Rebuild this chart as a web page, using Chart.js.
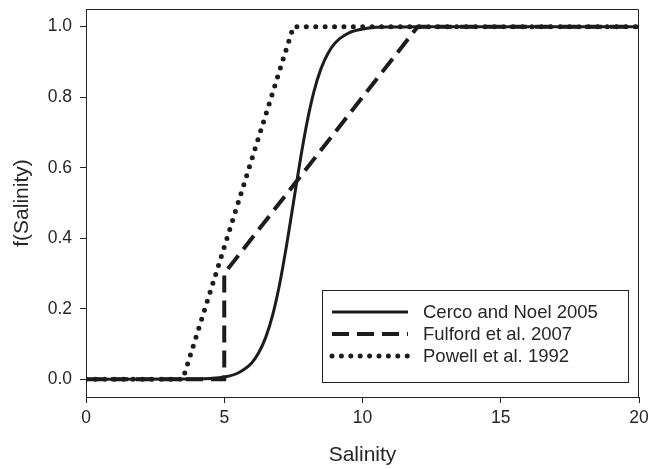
<!DOCTYPE html>
<html lang="en">
<head>
<meta charset="UTF-8">
<title>f(Salinity)</title>
<script src="https://cdn.jsdelivr.net/npm/chart.js"></script>
<style>
  html, body { margin: 0; padding: 0; background: #fff; }
  #wrap { width: 651px; height: 469px; position: relative; }
</style>
</head>
<body>
<div id="wrap"><canvas id="chart" width="651" height="469"></canvas></div>
<script>
  // values
  const seriesLabels = ['Cerco and Noel 2005', 'Fulford et al. 2007', 'Powell et al. 1992'];

  const cercoSal = [0, 4, 4.5, 5, 5.5, 6, 6.25, 6.5, 6.75, 7, 7.25, 7.5, 7.75, 8, 8.25, 8.5, 8.75, 9, 9.5, 10, 10.5, 11, 12, 20];
  const cercoF   = [0, 0.001, 0.0025, 0.0067, 0.018, 0.047, 0.076, 0.119, 0.182, 0.269, 0.378, 0.5, 0.622, 0.731, 0.818, 0.881, 0.924, 0.953, 0.982, 0.993, 0.998, 0.999, 1, 1];

  const fulfordSal = [0, 5, 5, 12, 20];
  const fulfordF   = [0, 0, 0.3, 1, 1];

  const powellSal = [0, 3.5, 7.5, 20];
  const powellF   = [0, 0, 1, 1];

  const xTicks = [0, 5, 10, 15, 20];
  const yTicks = [0, 0.2, 0.4, 0.6, 0.8, 1.0];

  const ink = '#1c1c1c';
  const textCol = '#262626';
  const font = 'Arial, "Liberation Sans", sans-serif';

  const pts = (xs, ys) => xs.map((x, i) => ({ x: x, y: ys[i] }));

  const datasets = [
    {
      label: seriesLabels[0],
      data: pts(cercoSal, cercoF),
      borderColor: ink, borderWidth: 3,
      cubicInterpolationMode: 'monotone',
      borderCapStyle: 'butt'
    },
    {
      label: seriesLabels[1],
      data: pts(fulfordSal, fulfordF),
      borderColor: ink, borderWidth: 4,
      borderDash: [17, 8],
      borderCapStyle: 'butt'
    },
    {
      label: seriesLabels[2],
      data: pts(powellSal, powellF),
      borderColor: ink, borderWidth: 5,
      borderDash: [0, 9.4],
      borderCapStyle: 'round',
      borderJoinStyle: 'round'
    }
  ];
  datasets.forEach(d => { d.showLine = true; d.pointRadius = 0; d.fill = false; d.tension = 0; });
  datasets[0].tension = 0.4;

  // top/right frame and the boxed legend
  const framePlugin = {
    id: 'frame',
    afterDraw(chart) {
      const { ctx, chartArea: a } = chart;
      ctx.save();
      ctx.strokeStyle = '#222';
      ctx.lineWidth = 1;
      ctx.beginPath();
      ctx.moveTo(a.left, a.top + 0.5);
      ctx.lineTo(a.right - 0.5, a.top + 0.5);
      ctx.lineTo(a.right - 0.5, a.bottom);
      ctx.stroke();

      // legend box
      const bx = a.left + 236, by = a.top + 281, bw = 306, bh = 92;
      ctx.strokeRect(bx + 0.5, by + 0.5, bw, bh);
      ctx.font = '18.5px ' + font;
      ctx.textBaseline = 'middle';
      chart.data.datasets.forEach((d, i) => {
        const y = by + 22 + i * 22;
        ctx.strokeStyle = ink;
        ctx.lineWidth = d.borderWidth;
        ctx.setLineDash(d.borderDash || []);
        ctx.lineCap = d.borderCapStyle || 'butt';
        ctx.beginPath();
        ctx.moveTo(bx + 10, y);
        ctx.lineTo(bx + 86, y);
        ctx.stroke();
        ctx.setLineDash([]);
        ctx.fillStyle = textCol;
        ctx.fillText(d.label, bx + 101, y + 1);
      });
      ctx.restore();
    }
  };

  new Chart(document.getElementById('chart'), {
    type: 'scatter',
    data: { datasets: datasets },
    plugins: [framePlugin],
    options: {
      responsive: false,
      animation: false,
      layout: { padding: { top: 9, right: 12, left: 0, bottom: 0 } },
      plugins: { legend: { display: false }, tooltip: { enabled: false } },
      scales: {
        x: {
          type: 'linear', min: 0, max: 20,
          afterBuildTicks: s => { s.ticks = xTicks.map(v => ({ value: v })); },
          afterFit: s => { s.height = 72; s.paddingLeft = 0; s.paddingRight = 0; },
          grid: { drawOnChartArea: false, drawTicks: true, tickLength: 6, tickColor: '#222', tickWidth: 1 },
          border: { color: '#222', width: 1 },
          ticks: { color: textCol, font: { family: font, size: 17.5 }, padding: 5, maxRotation: 0 },
          title: { display: true, text: 'Salinity', color: textCol, font: { family: font, size: 21, lineHeight: 1 }, padding: { top: 0, bottom: 3 } }
        },
        y: {
          type: 'linear', min: -0.05, max: 1.05,
          afterBuildTicks: s => { s.ticks = yTicks.map(v => ({ value: v })); },
          afterFit: s => { s.width = 86; s.paddingTop = 0; s.paddingBottom = 0; },
          grid: { drawOnChartArea: false, drawTicks: true, tickLength: 6, tickColor: '#222', tickWidth: 1 },
          border: { color: '#222', width: 1 },
          ticks: { color: textCol, font: { family: font, size: 17.5 }, padding: 8, callback: v => v.toFixed(1) },
          title: { display: true, text: 'f(Salinity)', color: textCol, font: { family: font, size: 21, lineHeight: 1 }, padding: { top: 12, bottom: 0 } }
        }
      }
    }
  });
</script>
</body>
</html>
